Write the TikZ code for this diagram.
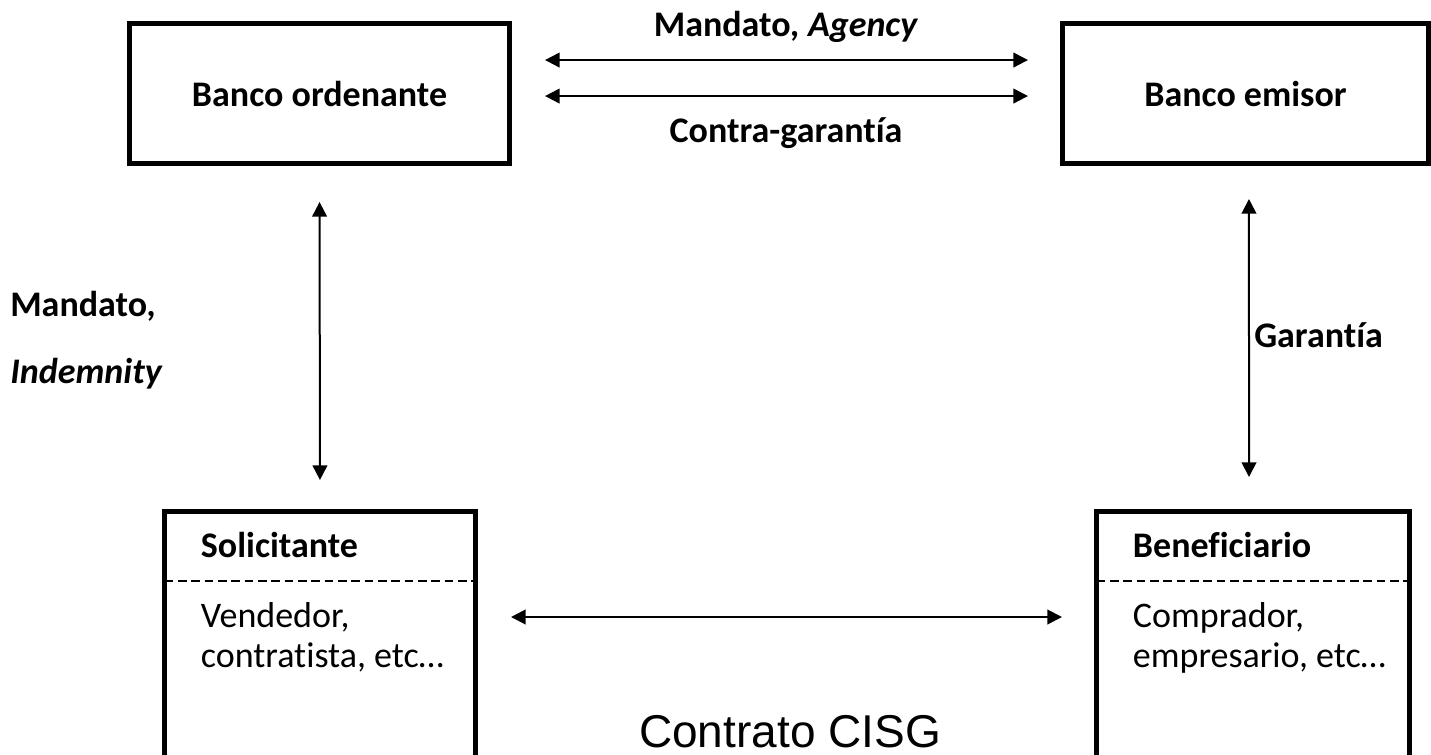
\documentclass[tikz,border=0pt]{standalone}
\usepackage{fontspec}
\setmainfont{Carlito}[Ligatures={NoCommon,NoRare}]
\newfontfamily\arialfont{Liberation Sans}
\usetikzlibrary{arrows.meta,positioning}

\newcommand\diagfont{\fontsize{27}{30}\selectfont}

\tikzset{
  bank/.style={draw, line width=3.75pt, minimum height=105pt, font=\diagfont\bfseries},
  party/.style={draw, line width=3.75pt, minimum width=233.25pt, minimum height=206.25pt},
  label/.style={inner sep=0pt, font=\diagfont\bfseries},
  plain/.style={inner sep=0pt, font=\diagfont},
  link/.style={<->, line width=1.5pt},
  sepline/.style={dash pattern=on 6.5pt off 3.5pt, line width=0.9pt, shorten <=2pt, shorten >=2pt}
}

\begin{document}
\begin{tikzpicture}[x=0.75pt, y=-0.75pt, >={Triangle[length=11pt,width=11pt]}]
\clip (0,0) rectangle (1431,754);

\node[bank, minimum width=285pt] (ordenante) at (319.5,93.5) {Banco ordenante};
\node[bank, minimum width=274.5pt] (emisor) at (1245.5,93.5) {Banco emisor};

\node[party] (solicitante) at (320,649) {};
\node[party, minimum width=234.75pt] (beneficiario) at (1253,649) {};

% contents of the lower boxes
\node[label, anchor=base west] (solicitante-t) at ([xshift=29pt,yshift=-36pt]solicitante.north west) {Solicitante};
\draw[sepline] ([yshift=-54pt]solicitante.north west) -- ([yshift=-54pt]solicitante.north east);
\node[plain, anchor=base west] (vendedor) at ([xshift=29pt,yshift=-88.5pt]solicitante.north west) {Vendedor,};
\node[plain, anchor=base west] (contratista) at ([xshift=29pt,yshift=-118.5pt]solicitante.north west) {contratista, etc…};

\node[label, anchor=base west] (beneficiario-t) at ([xshift=29pt,yshift=-36pt]beneficiario.north west) {Beneficiario};
\draw[sepline] ([yshift=-54pt]beneficiario.north west) -- ([yshift=-54pt]beneficiario.north east);
\node[plain, anchor=base west] (comprador) at ([xshift=29pt,yshift=-88.5pt]beneficiario.north west) {Comprador,};
\node[plain, anchor=base west] (empresario) at ([xshift=29pt,yshift=-118.5pt]beneficiario.north west) {empresario, etc…};

% relations
\draw[link, shorten <=24.75pt, shorten >=24pt] ([yshift=25.1pt]ordenante.east) -- ([yshift=25.1pt]emisor.west);
\draw[link, shorten <=24.75pt, shorten >=24pt] ([yshift=-1.9pt]ordenante.east) -- ([yshift=-1.9pt]emisor.west);
\draw[link, shorten <=27pt, shorten >=21.75pt] (ordenante.south) -- (solicitante.north);
\draw[link, shorten <=24.75pt, shorten >=24pt] ([xshift=2.6pt]emisor.south) -- ([xshift=-3pt]beneficiario.north);
\draw[link, shorten <=24.75pt, shorten >=24pt] ([yshift=24pt]solicitante.east) -- ([yshift=24pt]beneficiario.west);

\node[label, anchor=base] (agency) at (786,36) {Mandato\textit{, Agency}};
\node[label, anchor=base] (contra) at (786,142) {Contra-garantía};
\node[label, anchor=base west] (mandato) at (10,316) {Mandato\textit{,}};
\node[label, anchor=base west] (indemnity) at (10,383) {\textit{Indemnity}};
\node[label, anchor=base west] (garantia) at (1254,347) {Garantía};

\node[anchor=base, inner sep=0pt, font=\arialfont\fontsize{34.5}{40}\selectfont] (cisg) at (790,747) {Contrato CISG};

\end{tikzpicture}
\end{document}
